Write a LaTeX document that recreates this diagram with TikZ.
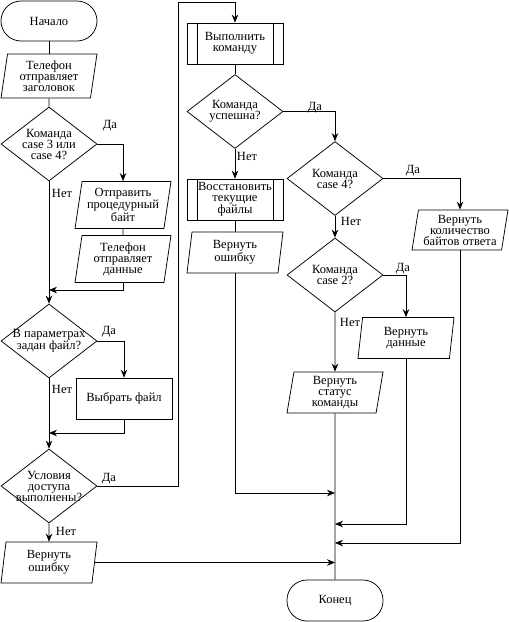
\documentclass[tikz,border=0pt]{standalone}
\usepackage{fontspec}
\setmainfont{Liberation Serif}
\usetikzlibrary{shapes.geometric,arrows.meta}
\newcommand\flfont{\rmfamily\fontsize{12.5}{11}\selectfont}
\begin{document}
\begin{tikzpicture}[x=1pt,y=-1pt,
  base/.style={draw, line width=0.75pt, font=\flfont, align=center, inner sep=0pt},
  term/.style={base, rectangle, rounded corners=20pt, minimum width=96pt, minimum height=40pt},
  io/.style={base, trapezium, trapezium left angle=78, trapezium right angle=102, trapezium stretches body, minimum width=96pt, minimum height=41pt},
  dec/.style={base, diamond, minimum width=96pt, minimum height=74pt, label={[font=\flfont, align=center, inner sep=0pt]center:#1}},
  proc/.style={base, rectangle, minimum width=96pt, minimum height=41pt},
  pre/.style={proc, path picture={
     \draw[line width=0.75pt] ([xshift=10pt]path picture bounding box.north west) -- ([xshift=10pt]path picture bounding box.south west);
     \draw[line width=0.75pt] ([xshift=-10pt]path picture bounding box.north east) -- ([xshift=-10pt]path picture bounding box.south east);}},
  lbl/.style={font=\flfont, inner sep=0pt, anchor=base},
  conn/.style={line width=0.75pt},
  arr/.style={conn, -{Stealth[length=8pt,width=6.5pt]}}
]
\useasboundingbox (0,0) rectangle (509,622);

% left column
\node[term] (start) at (49,21) {Начало};
\node[io, minimum height=44pt] (tel1) at (49,76) {Телефон\\отправляет\\заголовок};
\node[dec={Команда\\case 3 или\\case 4?}] (d1) at (49,144) {};
\node[io, minimum height=47pt] (send) at (123,205) {Отправить\\процедурный\\байт};
\node[io, minimum height=47pt] (tel2) at (123,259) {Телефон\\отправляет\\данные};
\node[dec={В параметрах\\задан файл?}] (d2) at (49,341) {};
\node[proc] (choose) at (124,398.5) {Выбрать файл};
\node[dec={Условия\\доступа\\выполнены?}] (d3) at (49,486) {};
\node[io] (err1) at (49,562.5) {Вернуть\\ошибку};

% middle column
\node[pre] (exec) at (235,43.5) {Выполнить\\команду};
\node[dec={Команда\\успешна?}] (d4) at (235,111.5) {};
\node[pre] (restore) at (235,199.5) {Восстановить\\текущие\\файлы};
\node[io] (err2) at (235,252.5) {Вернуть\\ошибку};

% right columns
\node[dec={Команда\\case 4?}] (d5) at (335,178.5) {};
\node[io, minimum height=40pt] (cnt) at (460,230) {Вернуть\\количество\\байтов ответа};
\node[dec={Команда\\case 2?}] (d6) at (335,275) {};
\node[io] (data) at (406,338) {Вернуть\\данные};
\node[io] (status) at (335,392.5) {Вернуть\\статус\\команды};
\node[term, minimum height=41pt] (end) at (335,600.5) {Конец};

% junction coordinates
\coordinate (j1) at (49,290);
\coordinate (j2) at (49,433);
\coordinate (f1) at (178,2);
\coordinate (m1) at (335,493);
\coordinate (m2) at (335,524);
\coordinate (m3) at (335,543);

% connectors, left
\draw[conn] (start) -- (tel1);
\draw[conn] (tel1) -- (d1);
\draw[arr] (d1.east) -| (send.north);
\draw[conn] (send) -- (tel2);
\draw[arr] (tel2.south) |- (j1);
\draw[arr] (d1.south) -- (d2.north);
\draw[arr] (d2.east) -| (choose.north);
\draw[arr] (choose.south) |- (j2);
\draw[arr] (d2.south) -- (d3.north);
\draw[arr] (d3.south) -- (err1.north);
\draw[arr] (d3.east) -| (f1) -| (exec.north);
\draw[arr] (err1.east) -- (err1.east -| end.north);

% connectors, middle and right
\draw[conn] (exec) -- (d4);
\draw[arr] (d4.south) -- (restore.north);
\draw[conn] (restore) -- (err2);
\draw[arr] (err2.south) |- (m1);
\draw[arr] (d4.east) -| (d5.north);
\draw[arr] (d5.east) -| (cnt.north);
\draw[arr] (d5.south) -- (d6.north);
\draw[arr] (d6.east) -| (data.north);
\draw[arr] (d6.south) -- (status.north);
\draw[arr] (data.south) |- (m2);
\draw[arr] (cnt.south) |- (m3);
\draw[conn] (status.south) -- (end.north);

% branch labels
\node[lbl] (l1y) at (110,128) {Да};
\node[lbl] (l1n) at (62,197) {Нет};
\node[lbl] (l2y) at (109,334) {Да};
\node[lbl] (l2n) at (62,393) {Нет};
\node[lbl] (l3y) at (109,481) {Да};
\node[lbl] (l3n) at (66,535) {Нет};
\node[lbl] (l4y) at (315,110) {Да};
\node[lbl] (l4n) at (247,160) {Нет};
\node[lbl] (l5y) at (413,173) {Да};
\node[lbl] (l5n) at (351,225) {Нет};
\node[lbl] (l6y) at (403,271) {Да};
\node[lbl] (l6n) at (350,326) {Нет};
\end{tikzpicture}
\end{document}
